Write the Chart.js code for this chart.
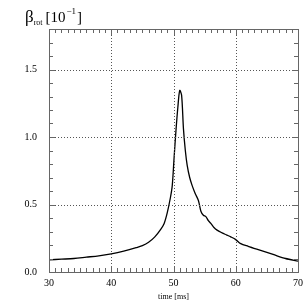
<!DOCTYPE html>
<html>
<head>
<meta charset="utf-8">
<script src="https://cdn.jsdelivr.net/npm/chart.js@4/dist/chart.umd.min.js"></script>
<style>
  html, body { margin: 0; padding: 0; background: #fff; }
  #wrap { width: 305px; height: 305px; }
</style>
</head>
<body>
<div id="wrap"><canvas id="betaChart"></canvas></div>
<script>
// time [ms] and beta_rot [10^-1]
const times = [30, 32, 34, 36, 38, 40, 42, 44, 45, 46, 47, 48, 48.5, 49, 49.5, 49.8, 50.1, 50.4, 50.7, 51.0, 51.3, 51.6, 51.9, 52.2, 52.6, 53.0, 53.5, 54.0, 54.4, 54.8, 55.2, 55.6, 56.0, 56.5, 57.0, 57.8, 58.5, 59.2, 60.0, 60.8, 62, 64, 66, 68, 70];
const betaRot = [0.09, 0.095, 0.10, 0.11, 0.12, 0.135, 0.155, 0.18, 0.195, 0.22, 0.26, 0.32, 0.36, 0.44, 0.55, 0.64, 0.85, 1.05, 1.22, 1.345, 1.31, 1.06, 0.90, 0.79, 0.70, 0.64, 0.58, 0.53, 0.45, 0.42, 0.41, 0.38, 0.36, 0.33, 0.31, 0.29, 0.275, 0.26, 0.24, 0.21, 0.19, 0.16, 0.13, 0.10, 0.08];
const xTicks = [30, 40, 50, 60, 70];
const yTicks = [0.0, 0.5, 1.0, 1.5];

const serif = '"Liberation Serif", "DejaVu Serif", serif';
const frameColor = '#666';

// ticks inside the frame, dotted grid at major ticks, axis title
const framePlugin = {
    id: 'frame',
    afterDraw(chart) {
        const ctx = chart.ctx;
        const xs = chart.scales.x;
        const ys = chart.scales.y;
        const a = chart.chartArea;
        ctx.save();

        // dotted grid
        ctx.strokeStyle = '#555';
        ctx.lineWidth = 1;
        ctx.setLineDash([1, 2]);
        xTicks.slice(1, -1).forEach(v => {
            const px = Math.round(xs.getPixelForValue(v)) + 0.5;
            ctx.beginPath();
            ctx.moveTo(px, a.top);
            ctx.lineTo(px, a.bottom);
            ctx.stroke();
        });
        yTicks.slice(1).forEach(v => {
            const py = Math.round(ys.getPixelForValue(v)) + 0.5;
            ctx.beginPath();
            ctx.moveTo(a.left, py);
            ctx.lineTo(a.right, py);
            ctx.stroke();
        });
        ctx.setLineDash([]);

        // minor / major ticks on all four sides
        ctx.strokeStyle = frameColor;
        for (let t = 30; t <= 70; t++) {
            const px = Math.round(xs.getPixelForValue(t)) + 0.5;
            const len = t % 10 === 0 ? 6 : 4;
            ctx.beginPath();
            ctx.moveTo(px, a.bottom);
            ctx.lineTo(px, a.bottom - len);
            ctx.moveTo(px, a.top);
            ctx.lineTo(px, a.top + len);
            ctx.stroke();
        }
        for (let i = 0; i <= 18; i++) {
            const py = Math.round(ys.getPixelForValue(i / 10)) + 0.5;
            const len = i % 5 === 0 ? 6 : 4;
            ctx.beginPath();
            ctx.moveTo(a.left, py);
            ctx.lineTo(a.left + len, py);
            ctx.moveTo(a.right, py);
            ctx.lineTo(a.right - len, py);
            ctx.stroke();
        }

        // frame
        ctx.strokeStyle = frameColor;
        ctx.strokeRect(Math.round(a.left) + 0.5, Math.round(a.top) + 0.5,
            Math.round(a.right - a.left), Math.round(a.bottom - a.top));

        // y title: beta_rot [10^-1]
        ctx.fillStyle = '#000';
        ctx.textBaseline = 'alphabetic';
        let x = 25;
        const base = 22;
        ctx.font = '17px ' + serif;
        ctx.fillText('β', x, base);
        x += ctx.measureText('β').width;
        ctx.font = '8px ' + serif;
        ctx.fillText('rot', x, base + 3);
        x += ctx.measureText('rot').width + 3;
        ctx.font = '15px ' + serif;
        ctx.fillText('[10', x, base);
        x += ctx.measureText('[10').width;
        ctx.font = '9px ' + serif;
        ctx.fillText('\u22121', x + 1, base - 8);
        x += ctx.measureText('\u22121').width + 2;
        ctx.font = '15px ' + serif;
        ctx.fillText(']', x, base);

        ctx.restore();
    }
};

new Chart(document.getElementById('betaChart'), {
    type: 'line',
    data: {
        datasets: [{
            data: times.map((t, i) => ({ x: t, y: betaRot[i] })),
            borderColor: '#000',
            borderWidth: 1.3,
            pointRadius: 0,
            tension: 0.3,
            fill: false
        }]
    },
    options: {
        responsive: true,
        maintainAspectRatio: false,
        animation: false,
        layout: { padding: 0 },
        plugins: {
            legend: { display: false },
            tooltip: { enabled: false }
        },
        scales: {
            x: {
                type: 'linear',
                position: 'bottom',
                min: 30,
                max: 70,
                afterBuildTicks: s => { s.ticks = xTicks.map(v => ({ value: v })); },
                afterFit: s => { s.height = 33; },
                grid: { display: false },
                border: { display: false },
                ticks: {
                    color: '#000',
                    font: { family: serif, size: 10 },
                    padding: -3,
                    maxRotation: 0
                },
                title: {
                    display: true,
                    text: 'time [ms]',
                    color: '#000',
                    font: { family: serif, size: 8 },
                    padding: { top: 0, bottom: 3 }
                }
            },
            xTop: {
                type: 'linear',
                position: 'top',
                min: 30,
                max: 70,
                display: true,
                afterFit: s => { s.height = 29; },
                grid: { display: false },
                border: { display: false },
                ticks: { display: false }
            },
            y: {
                type: 'linear',
                position: 'left',
                min: 0,
                max: 1.8,
                afterBuildTicks: s => { s.ticks = yTicks.map(v => ({ value: v })); },
                afterFit: s => { s.width = 49; },
                grid: { display: false },
                border: { display: false },
                ticks: {
                    color: '#000',
                    font: { family: serif, size: 10 },
                    padding: 4,
                    callback: v => v.toFixed(1)
                }
            },
            yRight: {
                type: 'linear',
                position: 'right',
                min: 0,
                max: 1.8,
                display: true,
                afterFit: s => { s.width = 7; },
                grid: { display: false },
                border: { display: false },
                ticks: { display: false }
            }
        }
    },
    plugins: [framePlugin]
});
</script>
</body>
</html>
